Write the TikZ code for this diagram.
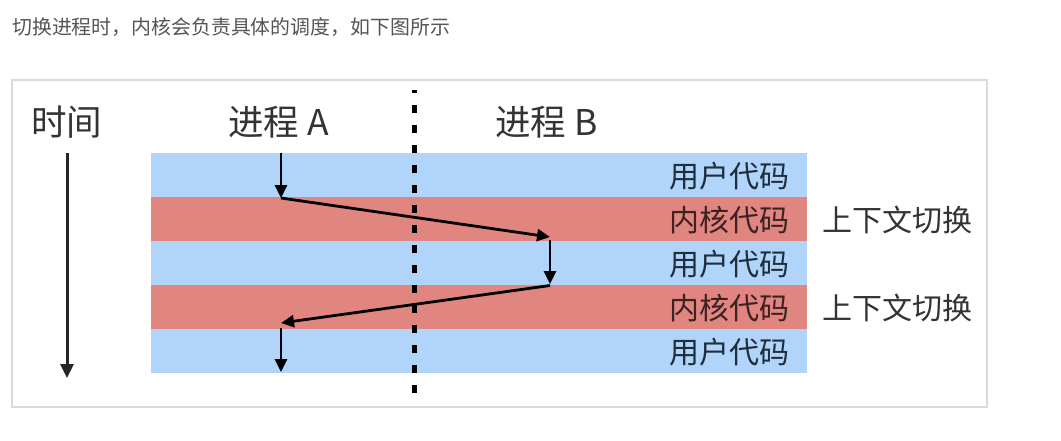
\documentclass[tikz,border=0pt]{standalone}
\usepackage{fontspec}
\newfontfamily\cjk{Noto Sans CJK SC}
\usetikzlibrary{arrows.meta}
\definecolor{userblue}{HTML}{B0D4FA}
\definecolor{kernred}{HTML}{E08580}
\definecolor{headgray}{HTML}{555555}
\definecolor{framegray}{HTML}{DADADA}
\definecolor{txtdark}{HTML}{333333}
\definecolor{userTxt}{HTML}{1F2D3D}
\definecolor{kernTxt}{HTML}{3D2222}
\tikzset{
  headtxt/.style={anchor=base west, inner sep=0pt, text=headgray, font=\cjk\fontsize{19.9}{24}\selectfont},
  titletxt/.style={anchor=base west, inner sep=0pt, text=txtdark, font=\cjk\fontsize{35.5}{40}\selectfont},
  lab/.style={anchor=base east, inner sep=0pt, font=\cjk\fontsize{30}{34}\selectfont},
  ctx/.style={anchor=base west, inner sep=0pt, text=txtdark, font=\cjk\fontsize{30}{34}\selectfont},
  stripe/.style={draw=none, inner sep=0pt, minimum width=656pt, minimum height=44pt},
  flow/.style={line width=2.8pt, black, -{Triangle[length=13pt,width=12pt]}},
  timearrow/.style={line width=3pt, color=black!85, -{Triangle[length=14pt,width=13pt]}},
  divider/.style={line width=4.8pt, black, dash pattern=on 8pt off 12pt, dash phase=5pt}
}
\begin{document}
\begin{tikzpicture}[x=1pt,y=-1pt]
\useasboundingbox (0,0) rectangle (1061,440);
\fill[white] (0,0) rectangle (1061,440);

% header text
\node[headtxt] (head) at (12,34) {切换进程时，内核会负责具体的调度，如下图所示};

% frame
\draw[framegray, line width=1.5pt] (12,80) rectangle (987,407);

% stripes
\node[stripe, fill=userblue] (s1) at (478.5,175) {};
\node[stripe, fill=kernred]  (s2) at (478.5,219) {};
\node[stripe, fill=userblue] (s3) at (478.5,263) {};
\node[stripe, fill=kernred]  (s4) at (478.5,307) {};
\node[stripe, fill=userblue] (s5) at (478.5,351) {};

% titles
\node[titletxt] (time) at (31,135) {时间};
\node[titletxt] (pa) at (228,135) {进程 A};
\node[titletxt] (pb) at (495,135) {进程 B};

% stripe labels
\node[lab, text=userTxt] (l1) at (789.5,187) {用户代码};
\node[lab, text=kernTxt] (l2) at (789.5,231) {内核代码};
\node[lab, text=userTxt] (l3) at (789.5,275) {用户代码};
\node[lab, text=kernTxt] (l4) at (789.5,319) {内核代码};
\node[lab, text=userTxt] (l5) at (789.5,363) {用户代码};

\node[ctx] (c1) at (822,231) {上下文切换};
\node[ctx] (c2) at (822,319) {上下文切换};

% divider
\coordinate (dtop) at (414.5,90);
\coordinate (dbot) at (414.5,395);
\draw[divider] (dtop) -- (dbot);

% time arrow
\coordinate (t0) at (67,153);
\coordinate (t1) at (67,378);
\draw[timearrow] (t0) -- (t1);

% process flow
\coordinate (a0) at (281,153);
\coordinate (a1) at (281,198);
\coordinate (b0) at (550,237);
\coordinate (b1) at (550,240);
\coordinate (b2) at (550,284);
\coordinate (b3) at (550,285.5);
\coordinate (a2) at (281,323);
\coordinate (a3) at (281,328);
\coordinate (a4) at (281,372);
\draw[flow] (a0) -- (a1);
\draw[flow] (a1) -- (b0);
\draw[flow] (b1) -- (b2);
\draw[flow] (b3) -- (a2);
\draw[flow] (a3) -- (a4);
\end{tikzpicture}
\end{document}
